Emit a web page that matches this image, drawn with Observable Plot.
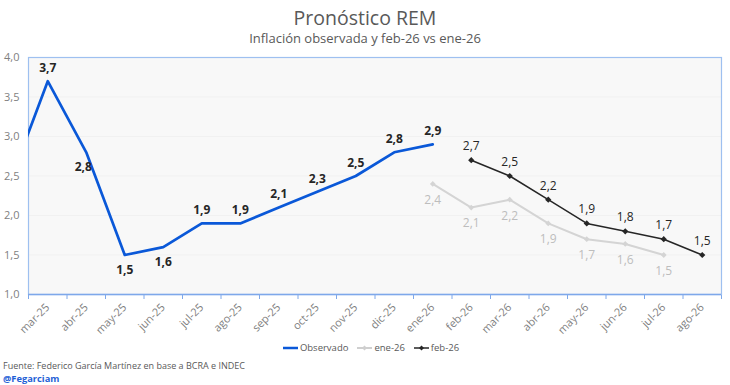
<!DOCTYPE html>
<html><head><meta charset="utf-8">
<script src="https://cdn.jsdelivr.net/npm/d3@7"></script>
<script src="https://cdn.jsdelivr.net/npm/@observablehq/plot@0.6"></script>
<style>
body{margin:0;background:#fff;font-family:"Open Sans",sans-serif;}
#wrap{position:relative;width:730px;height:385px;overflow:hidden;background:#fff;}
#title{position:absolute;top:5px;left:0;width:730px;text-align:center;font-size:19.5px;color:#595959;line-height:26px;}
#subtitle{position:absolute;top:29px;left:0;width:730px;text-align:center;font-size:13px;color:#595959;line-height:18px;}
#chart{position:absolute;top:0;left:0;}
#legend{position:absolute;top:341px;left:6px;width:730px;display:flex;justify-content:center;gap:9px;font-size:9.5px;color:#595959;line-height:13px;}
#legend .it{display:flex;align-items:center;gap:1px;}
#src{position:absolute;top:359px;left:3px;font-size:9px;color:#595959;line-height:13px;}
#tw{position:absolute;top:372px;left:3px;font-size:9.3px;font-weight:bold;color:#1f5fd6;line-height:13px;}
</style></head>
<body>
<div id="wrap">
  <div id="chart"></div>
  <div id="title">Pronóstico REM</div>
  <div id="subtitle">Inflación observada y feb-26 vs ene-26</div>
  <div id="legend"></div>
  <div id="src">Fuente: Federico García Martínez en base a BCRA e INDEC</div>
  <div id="tw">@Fegarciam</div>
</div>
<script>
// Categories (index 0 = feb-25, outside the visible axis)
const months = ["feb-25","mar-25","abr-25","may-25","jun-25","jul-25","ago-25","sep-25","oct-25","nov-25","dic-25","ene-26","feb-26","mar-26","abr-26","may-26","jun-26","jul-26","ago-26"];
const tickLabels = months.slice(1);
const yTicks = [1.0,1.5,2.0,2.5,3.0,3.5,4.0];

// Observado
const obsMonths = ["feb-25","mar-25","abr-25","may-25","jun-25","jul-25","ago-25","sep-25","oct-25","nov-25","dic-25","ene-26"];
const obsValues = [2.4,3.7,2.8,1.5,1.6,1.9,1.9,2.1,2.3,2.5,2.8,2.9];
// REM ene-26
const eneMonths = ["ene-26","feb-26","mar-26","abr-26","may-26","jun-26","jul-26"];
const eneValues = [2.4,2.1,2.2,1.9,1.7,1.64,1.5];
const eneLabels = ["2,4","2,1","2,2","1,9","1,7","1,6","1,5"];
// REM feb-26
const febMonths = ["feb-26","mar-26","abr-26","may-26","jun-26","jul-26","ago-26"];
const febValues = [2.7,2.5,2.2,1.9,1.8,1.7,1.5];
const febLabels = ["2,7","2,5","2,2","1,9","1,8","1,7","1,5"];

const belowObs = new Set(["may-25","jun-25"]);
const leftObs = new Set(["abr-25"]);
const fmt = v => v.toFixed(1).replace(".", ",");
const xi = m => months.indexOf(m);

const obs = obsMonths.map((m,i)=>({m, i:xi(m), v:obsValues[i], t:fmt(obsValues[i])}));
const ene = eneMonths.map((m,i)=>({m, i:xi(m), v:eneValues[i], t:eneLabels[i]}));
const feb = febMonths.map((m,i)=>({m, i:xi(m), v:febValues[i], t:febLabels[i]}));
const obsVis = obs.filter(d=>d.i>=1);

const BLUE = "#0a58d8", GRAY = "#d4d4d4", DARK = "#262626";
const lblBold = {x:"i", y:"v", text:"t", fontSize:12, fontWeight:"bold", fill:DARK};

const chart = Plot.plot({
  width:730, height:340,
  marginTop:57, marginBottom:46, marginLeft:28, marginRight:9,
  style:{fontFamily:"'Open Sans',sans-serif", background:"transparent"},
  x:{domain:[0.5,18.5], axis:null},
  y:{domain:[1,4], axis:null},
  marks:[
    Plot.frame({fill:"#f8f8f8", stroke:"none"}),
    Plot.gridY(yTicks.slice(1,-1), {stroke:"#f1f1f1", strokeOpacity:1}),
    Plot.axisY(yTicks, {label:null, tickSize:0, tickPadding:9, tickFormat:fmt, fontSize:11, color:"#7f7f7f"}),
    Plot.axisX(d3.range(0.5,18.6,1), {label:null, tickSize:5, tickFormat:()=>"", stroke:"#7ea8ea"}),
    Plot.axisX(d3.range(1,19), {label:null, tickSize:0, tickPadding:11, tickRotate:-45, tickFormat:i=>tickLabels[i-1], fontSize:11, color:"#7f7f7f"}),
    Plot.frame({stroke:"#9ec0f0", strokeWidth:1.2}),
    Plot.ruleY([1], {stroke:"#7ea8ea", strokeWidth:1.5}),
    Plot.line(ene, {x:"i", y:"v", stroke:GRAY, strokeWidth:2}),
    Plot.dot(ene, {x:"i", y:"v", symbol:"diamond2", r:2.6, fill:GRAY, stroke:"none"}),
    Plot.line(feb, {x:"i", y:"v", stroke:DARK, strokeWidth:1.5}),
    Plot.dot(feb, {x:"i", y:"v", symbol:"diamond2", r:2.8, fill:DARK, stroke:"none"}),
    Plot.line(obs, {x:"i", y:"v", stroke:BLUE, strokeWidth:2.7, clip:true}),
    Plot.text(obsVis.filter(d=>!belowObs.has(d.m) && !leftObs.has(d.m)), {...lblBold, dy:-13}),
    Plot.text(obsVis.filter(d=>belowObs.has(d.m)), {...lblBold, dy:15}),
    Plot.text(obsVis.filter(d=>leftObs.has(d.m)), {...lblBold, dy:15, dx:-3}),
    Plot.text(ene, {x:"i", y:"v", text:"t", dy:16, fontSize:12, fill:"#bdbdbd"}),
    Plot.text(feb, {x:"i", y:"v", text:"t", dy:-14, fontSize:12, fill:DARK})
  ]
});
document.getElementById("chart").appendChild(chart);

// Legend
const legendItems = [
  {name:"Observado", color:BLUE, w:2.5, marker:false},
  {name:"ene-26", color:"#cfcfcf", w:2, marker:true},
  {name:"feb-26", color:DARK, w:1.5, marker:true}
];
const lg = document.getElementById("legend");
for (const it of legendItems) {
  const d = document.createElement("div"); d.className = "it";
  d.innerHTML = `<svg width="16" height="10"><line x1="0" x2="15" y1="5" y2="5" stroke="${it.color}" stroke-width="${it.w}"/>${it.marker?`<path d="M7.5,2.5L10,5L7.5,7.5L5,5Z" fill="${it.color}"/>`:""}</svg><span>${it.name}</span>`;
  lg.appendChild(d);
}
</script>
</body></html>
